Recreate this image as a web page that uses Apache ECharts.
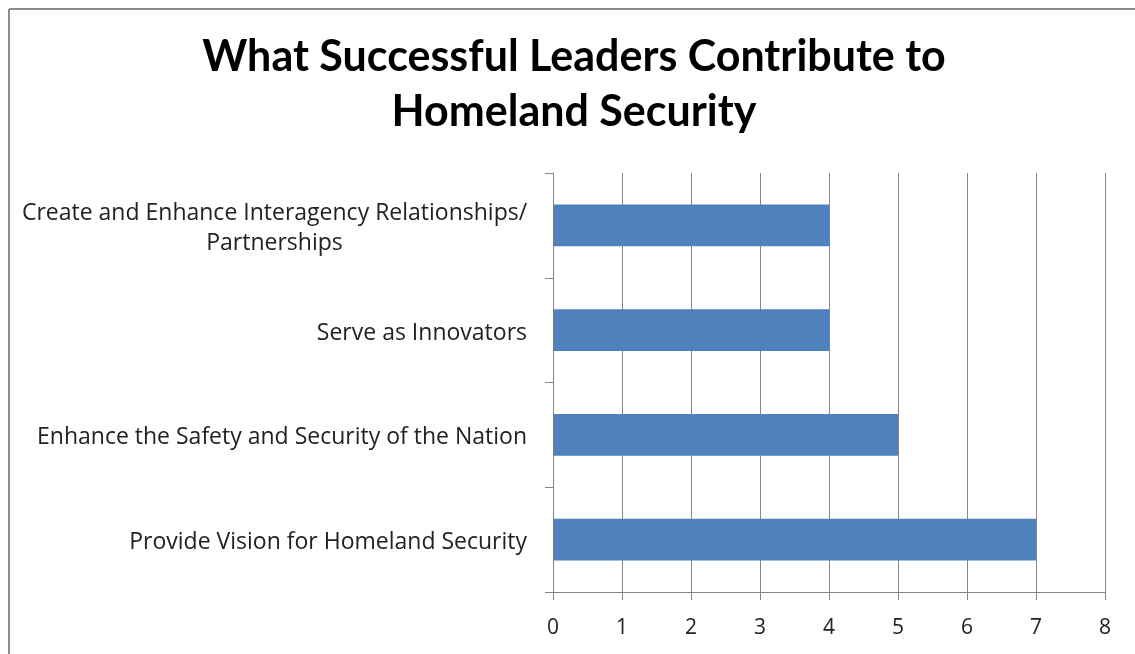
<!DOCTYPE html>
<html>
<head>
<meta charset="utf-8">
<script src="https://cdn.jsdelivr.net/npm/echarts@6/dist/echarts.min.js"></script>
<style>
html,body{margin:0;padding:0;background:#fff;}
#c{width:1135px;height:654px;}
</style>
</head>
<body>
<div id="c"></div>
<script>
const titleText = "What Successful Leaders Contribute to\nHomeland Security";
const categories = [
  "Provide Vision for Homeland Security",
  "Enhance the Safety and Security of the Nation",
  "Serve as Innovators",
  "Create and Enhance Interagency Relationships/\nPartnerships"
];
const values = [7, 5, 4, 4];
const xTicks = [0, 1, 2, 3, 4, 5, 6, 7, 8];

const chart = echarts.init(document.getElementById('c'));
const TFONT = 'Lato, "Open Sans", sans-serif';
const FONT = '"Open Sans", Lato, sans-serif';
chart.setOption({
  animation: false,
  backgroundColor: '#fff',
  title: {
    text: titleText,
    left: 574,
    textAlign: 'center',
    top: 30,
    padding: 0,
    textStyle: {
      fontFamily: TFONT,
      fontWeight: 'bold',
      fontSize: 43,
      lineHeight: 55,
      color: '#000'
    }
  },
  graphic: [
    { type: 'line', shape: { x1: 9, y1: 9, x2: 1135, y2: 9 }, style: { stroke: '#8c8c8c', lineWidth: 2 } },
    { type: 'line', shape: { x1: 9, y1: 9, x2: 9, y2: 654 }, style: { stroke: '#8c8c8c', lineWidth: 2 } }
  ],
  grid: { left: 553, right: 30, top: 173, bottom: 62, containLabel: false },
  xAxis: {
    type: 'value',
    min: xTicks[0],
    max: xTicks[xTicks.length - 1],
    interval: 1,
    axisLine: { show: true, lineStyle: { color: '#868686', width: 1 } },
    axisTick: { show: true, length: 8, lineStyle: { color: '#868686' } },
    splitLine: { show: true, lineStyle: { color: '#868686', width: 1 } },
    axisLabel: { margin: 26, fontFamily: FONT, fontSize: 21, color: '#222' }
  },
  yAxis: {
    type: 'category',
    data: categories,
    axisLine: { show: true, lineStyle: { color: '#868686', width: 1 } },
    axisTick: { show: true, length: 8, lineStyle: { color: '#868686' } },
    axisLabel: {
      margin: 26,
      fontFamily: FONT,
      fontSize: 23,
      color: '#222',
      lineHeight: 30,
      padding: [6, 0, 0, 0],
      formatter: function (v) {
        if (v.indexOf('\n') >= 0) {
          return v.split('\n').map(function (s) { return '{m|' + s + '}'; }).join('\n');
        }
        return v;
      },
      rich: {
        m: { width: 505, align: 'center', fontFamily: FONT, fontSize: 23, color: '#222', lineHeight: 30 }
      }
    }
  },
  series: [{
    type: 'bar',
    data: values,
    barWidth: '40%',
    itemStyle: { color: '#4F81BD' }
  }]
});
</script>
</body>
</html>
